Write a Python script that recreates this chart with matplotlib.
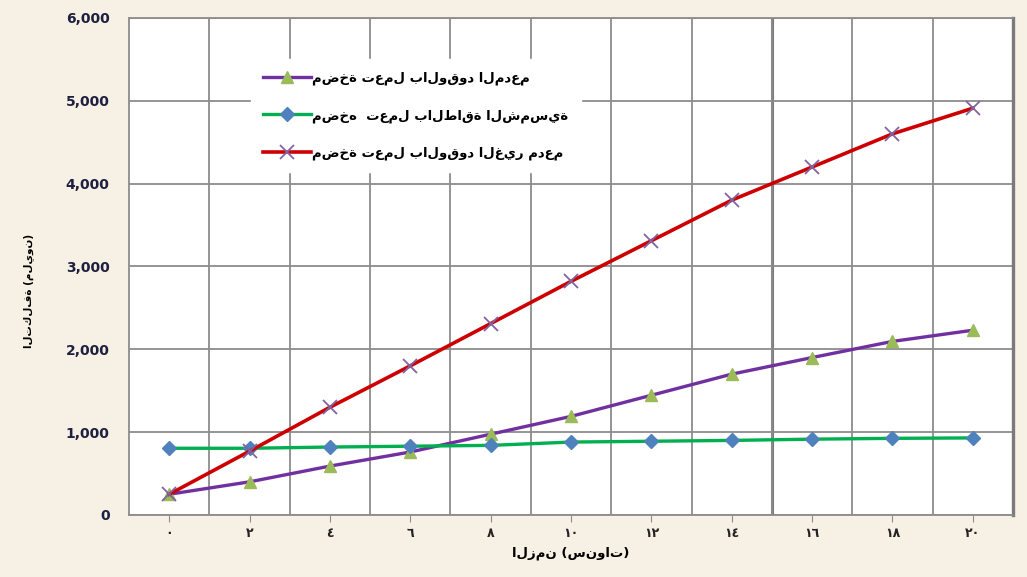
import matplotlib
matplotlib.use('Agg')
import matplotlib.pyplot as plt
from matplotlib.ticker import FuncFormatter

# data
years = [0, 2, 4, 6, 8, 10, 12, 14, 16, 18, 20]
year_labels = ['٠', '٢', '٤', '٦', '٨', '١٠', '١٢', '١٤', '١٦', '١٨', '٢٠']
subsidized = [250, 400, 590, 760, 975, 1190, 1445, 1700, 1900, 2095, 2230]
solar = [805, 805, 820, 830, 840, 880, 890, 900, 915, 925, 930]
unsubsidized = [250, 770, 1300, 1800, 2310, 2820, 3310, 3800, 4200, 4600, 4910]

names = ['مضخة تعمل بالوقود المدعم',
         'مضخه  تعمل بالطاقة الشمسية',
         'مضخة تعمل بالوقود الغير مدعم']
xlabel = 'الزمن (سنوات)'
ylabel = 'التكلفة (مليون)'

plt.rcParams['font.family'] = ['DejaVu Sans']
bg = '#F6F1E4'
grid_c = '#8C8C8C'
tick_c = '#1F2040'

fig = plt.figure(figsize=(10.27, 5.77), dpi=100, facecolor=bg)
ax = fig.add_axes([0.1256, 0.1075, 0.8608, 0.8615])
ax.set_facecolor('white')

ax.plot(years, subsidized, color='#7030A0', lw=2.4, marker='^', ms=9,
        mfc='#9BBB59', mec='#9BBB59', label=names[0], zorder=3)
ax.plot(years, solar, color='#00B050', lw=2.4, marker='D', ms=7,
        mfc='#4F81BD', mec='#4F81BD', label=names[1], zorder=3)
ax.plot(years, unsubsidized, color='#CC0000', lw=2.6, marker='x', ms=10,
        mew=1.3, mec='#8064A2', label=names[2], zorder=4)

ax.set_xlim(-1, 21)
ax.set_ylim(0, 6000)
ax.set_yticks(range(0, 6001, 1000))
ax.yaxis.set_major_formatter(FuncFormatter(lambda v, p: '{:,.0f}'.format(v)))
ax.set_xticks(years)
ax.set_xticklabels(year_labels)
ax.set_xticks(range(1, 21, 2), minor=True)

ax.grid(axis='y', which='major', color=grid_c, lw=1.3, zorder=1)
ax.grid(axis='x', which='minor', color=grid_c, lw=1.3, zorder=1)
ax.axvline(15, color='#7A7A7A', lw=2.2, zorder=1)

for s in ['left', 'bottom', 'top']:
    ax.spines[s].set_color(grid_c)
    ax.spines[s].set_linewidth(1.3)
ax.spines['right'].set_color('#7A7A7A')
ax.spines['right'].set_linewidth(2.4)

ax.tick_params(axis='y', length=0, pad=14, labelsize=10, labelcolor=tick_c)
ax.tick_params(axis='x', which='major', length=5, color=grid_c, pad=4,
               labelsize=9, labelcolor='#222222')
ax.tick_params(axis='x', which='minor', length=0)
for lab in ax.get_yticklabels() + ax.get_xticklabels():
    lab.set_fontweight('bold')

ax.set_xlabel(xlabel, fontsize=9.5, fontweight='bold', labelpad=4)
ax.set_ylabel(ylabel, fontsize=7.5, fontweight='bold')
ax.yaxis.set_label_coords(-0.108, 0.45)

leg = ax.legend(loc='upper left', bbox_to_anchor=(0.13, 0.93),
                frameon=True, fancybox=False, framealpha=1,
                facecolor='white', edgecolor='white', handlelength=3.6,
                handletextpad=0.1, labelspacing=1.8, borderpad=0.95,
                prop={'weight': 'bold', 'size': 9.5})
leg.set_zorder(5)

fig.savefig('out.png', dpi=100, facecolor=bg)
